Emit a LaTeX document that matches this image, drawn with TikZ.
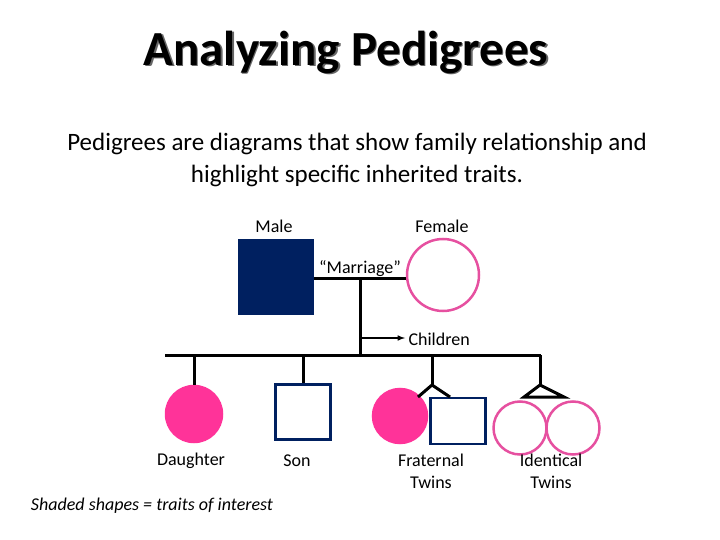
\documentclass[tikz,border=0pt]{standalone}
\usepackage{fontspec}
\setmainfont{Carlito}
\begin{document}
\begin{tikzpicture}[x=1pt,y=-1pt]
\definecolor{navy}{RGB}{0,32,96}
\definecolor{pk}{RGB}{230,80,160}
\definecolor{pkf}{RGB}{255,51,153}
\tikzset{ln/.style={line width=3pt,black},
  fem/.style={circle,draw=pk,line width=2.5pt,inner sep=0pt},
  femf/.style={fem,fill=pkf,draw=pkf},
  mal/.style={rectangle,draw=navy,line width=2.5pt,inner sep=0pt},
  lbl/.style={font=\fontsize{18}{22}\selectfont,align=center}}
\useasboundingbox (0,0) rectangle (720,540);
\node[font=\fontsize{49}{56}\selectfont\bfseries,text=black!60,xshift=1.5pt,yshift=-1.5pt] (shadow) at (346,52) {Analyzing Pedigrees};
\node[font=\fontsize{49}{56}\selectfont\bfseries] (title) at (346,52) {Analyzing Pedigrees};
\node[font=\fontsize{25}{32}\selectfont,align=center] (sub) at (357,160) {Pedigrees are diagrams that show family relationship and\\highlight specific inherited traits.};
\node[mal,fill=navy,minimum width=74pt,minimum height=74pt] (m) at (276,277) {};
\node[fem,minimum size=72pt] (f) at (443,275) {};
\node[lbl] (ml) at (274,226) {Male};
\node[lbl] (fl) at (442,226) {Female};
\coordinate (mc) at (360,278);
\draw[ln] (m.east|-mc) -- (f.west|-mc);
\node[lbl,anchor=south] (mar) at (360,280) {“Marriage”};
\coordinate (sib) at (360,355);
\draw[ln] (mc) -- (sib);
\coordinate (ca) at (360,338);
\node[lbl,anchor=west] (ch) at (405,339) {Children};
\draw[line width=1.5pt,-latex] (ca) -- (ch.west|-ca);
\coordinate (sl) at (165,355); \coordinate (sr) at (541,355);
\draw[ln] (sl) -- (sr);
% daughter
\node[femf,minimum size=56pt] (d) at (194,414) {};
\draw[ln] (194,355) -- (d.north);
% son
\node[mal,minimum width=55pt,minimum height=55pt] (s) at (303,412) {};
\draw[ln] (303,355) -- (s.north);
% fraternal
\coordinate (fr) at (432,385);
\node[femf,minimum size=54pt] (ft1) at (400,416) {};
\node[mal,minimum width=55pt,minimum height=46pt] (ft2) at (458,421) {};
\draw[ln] (432,355) -- (fr);
\draw[ln] (fr) -- (418,397);
\draw[ln] (fr) -- (450,397);
% identical
\coordinate (id) at (540,385);
\node[fem,minimum size=53pt] (it1) at (520,428) {};
\node[fem,minimum size=53pt] (it2) at (573,428) {};
\draw[ln] (540,355) -- (id);
\draw[ln] (id) -- (524,397) -- (564,397) -- cycle;
\node[lbl] (dl) at (191,461) {Daughter};
\node[lbl] (sl2) at (297,461) {Son};
\node[lbl] (fl2) at (431,471) {Fraternal\\Twins};
\node[lbl] (il) at (551,471) {Identical\\Twins};
\node[lbl,font=\fontsize{18}{22}\selectfont\itshape] (note) at (152,506) {Shaded shapes = traits of interest};
\end{tikzpicture}
\end{document}
